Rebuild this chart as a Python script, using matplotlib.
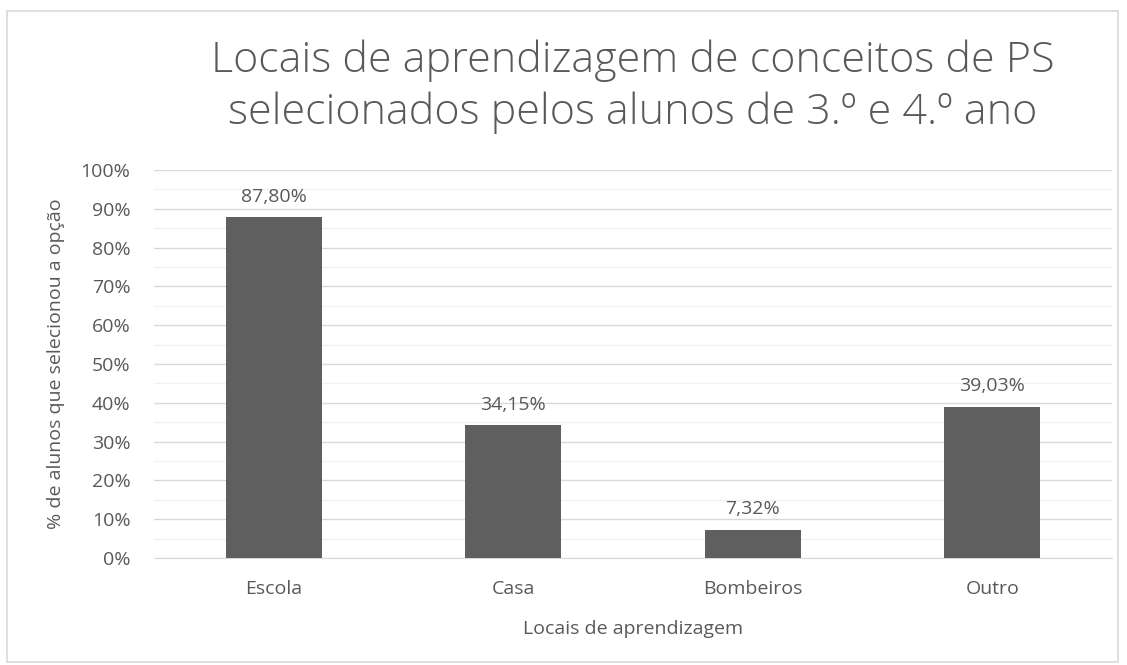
import matplotlib
matplotlib.use("Agg")
import matplotlib.pyplot as plt
from matplotlib.patches import Rectangle
from matplotlib.ticker import MultipleLocator, PercentFormatter

categories = ["Escola", "Casa", "Bombeiros", "Outro"]
values = [87.80, 34.15, 7.32, 39.03]
yticks = [0, 10, 20, 30, 40, 50, 60, 70, 80, 90, 100]

TXT = "#595959"
BAR = "#5f5f5f"
plt.rcParams.update({"font.family": ["Open Sans", "DejaVu Sans"], "text.color": TXT})

W, H = 1127, 665
fig = plt.figure(figsize=(W / 100, H / 100), dpi=100)
fig.patch.set_facecolor("white")
fig.patches.append(Rectangle((7 / W, 3 / H), 1111 / W, 1 - 14 / H, transform=fig.transFigure,
                             fill=False, ec="#d9d9d9", lw=1.2))

ax = fig.add_axes([154 / W, 1 - 558 / H, (1112 - 154) / W, (558 - 170) / H])
x = range(len(categories))
ax.bar(x, values, width=0.4, color=BAR, zorder=3)
ax.set_xlim(-0.5, len(categories) - 0.5)
ax.set_ylim(0, 100)
ax.set_yticks(yticks)
ax.yaxis.set_minor_locator(MultipleLocator(5))
ax.yaxis.set_major_formatter(PercentFormatter(decimals=0))
ax.grid(axis="y", which="major", color="#d9d9d9", lw=1.0, zorder=0)
ax.grid(axis="y", which="minor", color="#f2f2f2", lw=1.0, zorder=0)
for s in ["top", "right", "left"]:
    ax.spines[s].set_visible(False)
ax.spines["bottom"].set_color("#d9d9d9")
ax.tick_params(axis="both", which="both", length=0, colors=TXT, labelsize=14)
ax.tick_params(axis="y", pad=17)
ax.tick_params(axis="x", pad=16)
ax.set_xticks(list(x))
ax.set_xticklabels(categories)

for i, v in enumerate(values):
    ax.annotate(f"{v:.2f}%".replace(".", ","), (i, v), xytext=(0, 8), textcoords="offset points",
                ha="center", va="bottom", fontsize=14, color=TXT)

ax.set_ylabel("% de alunos que selecionou a opção", fontsize=14, color=TXT, labelpad=11)
ax.set_xlabel("Locais de aprendizagem", fontsize=14, color=TXT, labelpad=16)

fig.text(633 / W, 1 - 72 / H, "Locais de aprendizagem de conceitos de PS",
         ha="center", va="baseline", fontsize=31, color=TXT, fontweight="light")
fig.text(633 / W, 1 - 124 / H, "selecionados pelos alunos de 3.º e 4.º ano",
         ha="center", va="baseline", fontsize=31, color=TXT, fontweight="light")

fig.savefig("out.png", dpi=100, facecolor="white")
